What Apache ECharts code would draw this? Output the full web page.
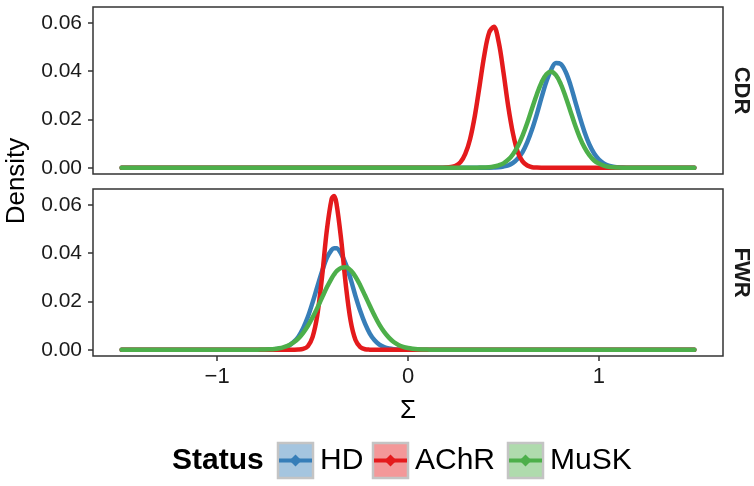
<!DOCTYPE html>
<html>
<head>
<meta charset="utf-8">
<script src="https://cdn.jsdelivr.net/npm/echarts@6/dist/echarts.min.js"></script>
<style>
html,body{margin:0;padding:0;background:#fff;}
#chart{width:754px;height:486px;}
</style>
</head>
<body>
<div id="chart"></div>
<script>
// ---- data ----
const statuses = ['HD', 'AChR', 'MuSK'];
const facets = ['CDR', 'FWR'];
const xTicks = [-1, 0, 1];
const yTicks = [0, 0.02, 0.04, 0.06];

const xCDR = [-1.5, 0.1, 0.125, 0.15, 0.175, 0.2, 0.225, 0.25, 0.275, 0.3, 0.325, 0.35, 0.375, 0.4, 0.425, 0.45, 0.475, 0.5, 0.525, 0.55, 0.575, 0.6, 0.625, 0.65, 0.675, 0.7, 0.725, 0.75, 0.775, 0.8, 0.825, 0.85, 0.875, 0.9, 0.925, 0.95, 0.975, 1.0, 1.025, 1.05, 1.075, 1.1, 1.125, 1.15, 1.175, 1.2, 1.225, 1.25, 1.5];
const cdrHD = [0, 0, 0, 0, 0, 0, 0, 0, 0, 0, 0, 0, 0, 0.00001, 0.00003, 0.0001, 0.0002, 0.0005, 0.001, 0.002, 0.0038, 0.0065, 0.0106, 0.0159, 0.0222, 0.0292, 0.0357, 0.0406, 0.0433, 0.0429, 0.0398, 0.0345, 0.0277, 0.0209, 0.0147, 0.0096, 0.0059, 0.0034, 0.0018, 0.0009, 0.0004, 0.0002, 0.00007, 0.00003, 0.00001, 0, 0, 0, 0];
const cdrAChR = [0, 0, 0, 0, 0.00002, 0.00007, 0.00027, 0.00085, 0.0023, 0.0057, 0.0118, 0.0214, 0.0339, 0.0467, 0.0559, 0.0583, 0.052, 0.0395, 0.0254, 0.0141, 0.0064, 0.0026, 0.0009, 0.0002, 0.00006, 0.00001, 0, 0, 0, 0, 0, 0, 0, 0, 0, 0, 0, 0, 0, 0, 0, 0, 0, 0, 0, 0, 0, 0, 0];
const cdrMuSK = [0, 0, 0, 0, 0, 0, 0, 0, 0, 0, 0, 0.00001, 0.00004, 0.0001, 0.0002, 0.0005, 0.001, 0.0018, 0.0033, 0.0056, 0.0089, 0.0133, 0.0186, 0.0246, 0.0304, 0.0354, 0.0387, 0.0397, 0.0383, 0.0347, 0.0295, 0.0236, 0.0177, 0.0125, 0.0083, 0.0052, 0.003, 0.0017, 0.0009, 0.0004, 0.0002, 0.00008, 0.00003, 0.00001, 0, 0, 0, 0, 0];

const xFWR = [-1.5, -0.85, -0.825, -0.8, -0.775, -0.75, -0.725, -0.7, -0.675, -0.65, -0.625, -0.6, -0.575, -0.55, -0.525, -0.5, -0.475, -0.45, -0.425, -0.4, -0.3875, -0.375, -0.35, -0.325, -0.3, -0.275, -0.25, -0.225, -0.2, -0.175, -0.15, -0.125, -0.1, -0.075, -0.05, -0.025, 0, 0.025, 0.05, 0.075, 0.1, 0.125, 0.15, 1.5];
const fwrHD = [0, 0, 0, 0, 0, 0.00002, 0.00006, 0.00016, 0.0004, 0.0008, 0.0016, 0.0031, 0.0053, 0.0088, 0.0135, 0.0195, 0.0261, 0.0325, 0.038, 0.0413, 0.042, 0.042, 0.0397, 0.0352, 0.0291, 0.0222, 0.016, 0.0108, 0.0067, 0.0039, 0.0021, 0.0011, 0.0005, 0.0002, 0.0001, 0.00004, 0.00001, 0, 0, 0, 0, 0, 0, 0];
const fwrAChR = [0, 0, 0, 0, 0, 0, 0, 0, 0, 0, 0, 0.00001, 0.00005, 0.0003, 0.0014, 0.0052, 0.0143, 0.0303, 0.0495, 0.0624, 0.0636, 0.0607, 0.0455, 0.0263, 0.0117, 0.004, 0.0011, 0.0002, 0.00003, 0, 0, 0, 0, 0, 0, 0, 0, 0, 0, 0, 0, 0, 0, 0];
const fwrMuSK = [0, 0, 0.00001, 0.00002, 0.00004, 0.00009, 0.00017, 0.0003, 0.0006, 0.0011, 0.0018, 0.003, 0.0046, 0.0069, 0.0098, 0.0133, 0.0173, 0.0216, 0.0258, 0.0295, 0.0311, 0.0324, 0.0339, 0.0341, 0.0328, 0.0302, 0.0266, 0.0224, 0.0182, 0.0141, 0.0104, 0.0074, 0.005, 0.0032, 0.002, 0.0012, 0.0007, 0.0004, 0.0002, 0.0001, 0.00005, 0.00002, 0.00001, 0];

// ---- styling ----
const colors = {HD: '#377EB8', AChR: '#E41A1C', MuSK: '#4DAF4A'};
const fills = {HD: 'rgba(55,126,184,0.45)', AChR: 'rgba(228,26,28,0.45)', MuSK: 'rgba(77,175,74,0.45)'};
const FONT = '"Liberation Sans", Arial, Helvetica, sans-serif';

const panelData = {
  CDR: {x: xCDR, HD: cdrHD, AChR: cdrAChR, MuSK: cdrMuSK},
  FWR: {x: xFWR, HD: fwrHD, AChR: fwrAChR, MuSK: fwrMuSK}
};

const grids = [
  {left: 93, top: 7, width: 630, height: 167},
  {left: 93, top: 189, width: 630, height: 167}
].map(g => Object.assign(g, {show: true, borderColor: '#333', borderWidth: 1.5, backgroundColor: '#fff'}));

const xAxes = facets.map((f, i) => ({
  type: 'value', gridIndex: i, min: -1.65, max: 1.65, position: 'bottom',
  splitLine: {show: false}, axisLine: {show: false, onZero: false},
  axisTick: {show: i === 1, customValues: xTicks, length: 5, lineStyle: {color: '#333', width: 1.5}},
  axisLabel: {show: i === 1, customValues: xTicks, margin: 10, fontSize: 22, color: '#1a1a1a', fontFamily: FONT,
    formatter: v => (v < 0 ? '\u2212' + Math.abs(v) : String(v))}
}));
const yAxes = facets.map((f, i) => ({
  type: 'value', gridIndex: i, min: -0.0026, max: 0.0665, position: 'left',
  splitLine: {show: false}, axisLine: {show: false, onZero: false},
  axisTick: {show: true, customValues: yTicks, length: 5, lineStyle: {color: '#333', width: 1.5}},
  axisLabel: {customValues: yTicks, margin: 11, fontSize: 21, color: '#1a1a1a', fontFamily: FONT,
    formatter: v => v.toFixed(2)}
}));

const series = [];
facets.forEach((f, i) => {
  statuses.forEach(s => {
    const d = panelData[f];
    series.push({
      name: s, type: 'line', xAxisIndex: i, yAxisIndex: i,
      data: d.x.map((x, k) => [x, d[s][k]]),
      showSymbol: false, smooth: 0.35, silent: true,
      lineStyle: {color: colors[s], width: 4.5, cap: 'round', join: 'round'},
      itemStyle: {color: colors[s]}
    });
  });
});

// legend drawn as graphics
const legendKeys = [{s: 'HD', bx: 278, tx: 320}, {s: 'AChR', bx: 373, tx: 415}, {s: 'MuSK', bx: 508, tx: 550}];
const graphics = [
  {type: 'text', x: 741, y: 90.5, rotation: -Math.PI / 2,
    style: {text: 'CDR', font: 'bold 22px ' + FONT, fill: '#1a1a1a', align: 'center', verticalAlign: 'middle'}},
  {type: 'text', x: 741, y: 272.5, rotation: -Math.PI / 2,
    style: {text: 'FWR', font: 'bold 22px ' + FONT, fill: '#1a1a1a', align: 'center', verticalAlign: 'middle'}},
  {type: 'text', x: 17, y: 181, rotation: Math.PI / 2,
    style: {text: 'Density', font: '26px ' + FONT, fill: '#000', align: 'center', verticalAlign: 'middle'}},
  {type: 'text', x: 408, y: 411,
    style: {text: '\u03A3', font: '26px ' + FONT, fill: '#000', align: 'center', verticalAlign: 'middle'}},
  {type: 'text', x: 172, y: 461,
    style: {text: 'Status', font: 'bold 30px ' + FONT, fill: '#000', align: 'left', verticalAlign: 'middle'}}
];
legendKeys.forEach(k => {
  const cy = 460.5, cx = k.bx + 17.5;
  graphics.push({type: 'rect', shape: {x: k.bx, y: 443, width: 35, height: 35},
    style: {fill: fills[k.s], stroke: '#c4c4c4', lineWidth: 2.5}});
  graphics.push({type: 'line', shape: {x1: k.bx + 1, y1: cy, x2: k.bx + 34, y2: cy},
    style: {stroke: colors[k.s], lineWidth: 4}});
  graphics.push({type: 'polygon', shape: {points: [[cx, cy - 6], [cx + 6, cy], [cx, cy + 6], [cx - 6, cy]]},
    style: {fill: colors[k.s]}});
  graphics.push({type: 'text', x: k.tx, y: 461,
    style: {text: k.s, font: '30px ' + FONT, fill: '#000', align: 'left', verticalAlign: 'middle'}});
});

const chart = echarts.init(document.getElementById('chart'), null, {renderer: 'canvas'});
chart.setOption({
  backgroundColor: '#fff',
  animation: false,
  grid: grids,
  xAxis: xAxes,
  yAxis: yAxes,
  series: series,
  graphic: graphics
});
</script>
</body>
</html>
